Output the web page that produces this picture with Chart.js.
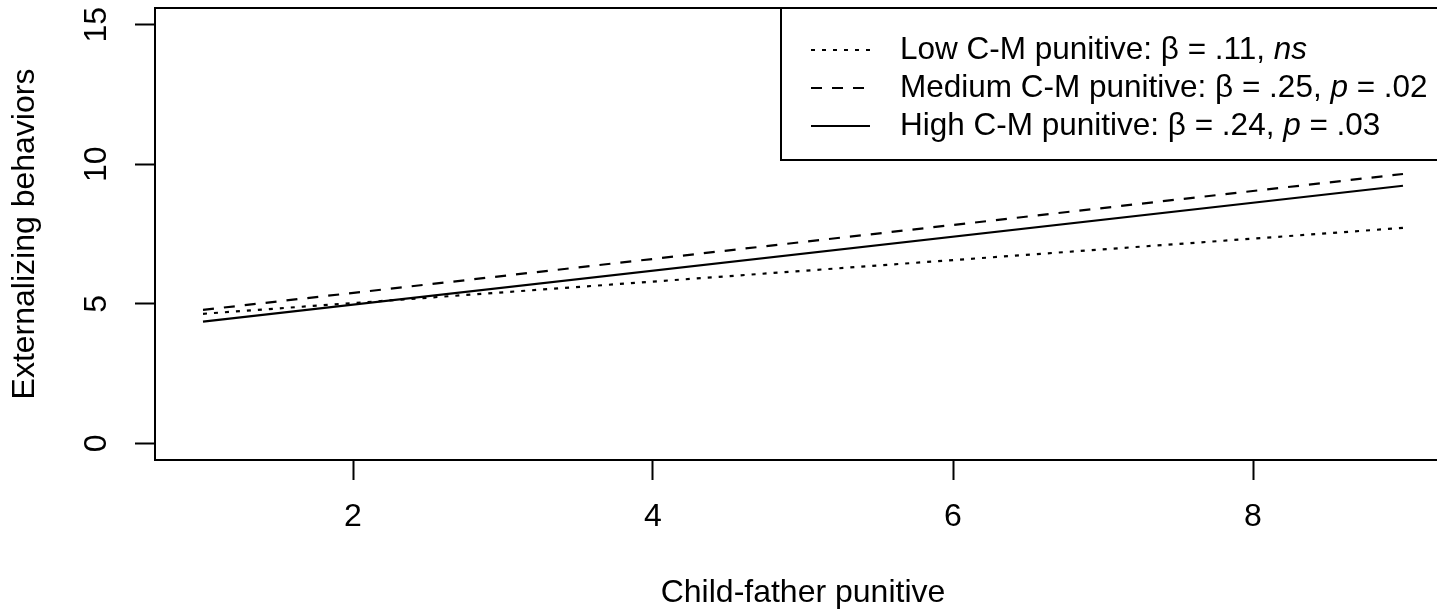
<!DOCTYPE html>
<html><head><meta charset="utf-8">
<script src="https://cdn.jsdelivr.net/npm/chart.js@4.4.1/dist/chart.umd.min.js"></script>
<style>
html,body{margin:0;padding:0;overflow:hidden;background:#fff;width:1437px;height:612px}
#wrap{width:1451px;height:612px;position:relative}
canvas{display:block}
</style></head>
<body><div id="wrap"><canvas id="c" width="1451" height="612"></canvas></div>
<script>
// ---- data ----
const xValues = [1, 9];
const lowValues = [4.64, 7.72];
const mediumValues = [4.78, 9.65];
const highValues = [4.36, 9.23];
const xTicks = [2, 4, 6, 8];
const yTicks = [0, 5, 10, 15];
const seriesNames = ["Low C-M punitive", "Medium C-M punitive", "High C-M punitive"];
const legendTexts = [
  [["Low C-M punitive: β = .11, ", false], ["ns", true]],
  [["Medium C-M punitive: β = .25, ", false], ["p", true], [" = .02", false]],
  [["High C-M punitive: β = .24, ", false], ["p", true], [" = .03", false]]
];
const xTitle = "Child-father punitive";
const yTitle = "Externalizing behaviors";

const FONT = "'Liberation Sans', Arial, Helvetica, sans-serif";
const FS = 32;
const LFS = 31.5;
const dashes = [[4, 7], [11, 10], []];

function pts(ys) { return xValues.map((x, i) => ({ x: x, y: ys[i] })); }

const framePlugin = {
  id: 'frame',
  afterDraw(chart) {
    const { ctx, chartArea: a } = chart;
    ctx.save();
    ctx.strokeStyle = '#000';
    ctx.lineWidth = 2;
    ctx.setLineDash([]);
    ctx.strokeRect(a.left, a.top, a.right - a.left, a.bottom - a.top);
    // legend
    const lx = 781, ly = a.top, lb = 160;
    ctx.fillStyle = '#fff';
    ctx.fillRect(lx, ly, a.right - lx, lb - ly);
    ctx.strokeRect(lx, ly, a.right - lx, lb - ly);
    const rowY = [a.top + 42, a.top + 80, a.top + 118];
    chart.data.datasets.forEach((ds, i) => {
      const y = rowY[i];
      ctx.beginPath();
      ctx.lineWidth = 1.8;
      ctx.setLineDash(ds.borderDash || []);
      ctx.moveTo(811, y);
      ctx.lineTo(870, y);
      ctx.stroke();
      ctx.setLineDash([]);
      let x = 900;
      ctx.fillStyle = '#000';
      ctx.textBaseline = 'alphabetic';
      ctx.textAlign = 'left';
      legendTexts[i].forEach(([t, it]) => {
        ctx.font = (it ? 'italic ' : '') + LFS + 'px ' + FONT;
        ctx.fillText(t, x, y + 9);
        x += ctx.measureText(t).width;
      });
    });
    ctx.restore();
  }
};

new Chart(document.getElementById('c'), {
  type: 'line',
  data: {
    datasets: [
      { label: seriesNames[0], data: pts(lowValues), borderDash: dashes[0] },
      { label: seriesNames[1], data: pts(mediumValues), borderDash: dashes[1] },
      { label: seriesNames[2], data: pts(highValues), borderDash: dashes[2] }
    ].map(d => Object.assign(d, { borderColor: '#000', borderWidth: 2.2, pointRadius: 0, fill: false, tension: 0 }))
  },
  options: {
    responsive: false,
    animation: false,
    devicePixelRatio: 1,
    layout: { padding: { top: 8, left: 0, right: 0, bottom: 0 } },
    plugins: { legend: { display: false }, tooltip: { enabled: false } },
    scales: {
      x: {
        type: 'linear', min: 0.68, max: 9.32,
        afterBuildTicks: s => { s.ticks = xTicks.map(v => ({ value: v })); },
        afterFit: s => { s.height = 152; s.paddingLeft = 0; s.paddingRight = 0; },
        grid: { drawOnChartArea: false, drawTicks: true, tickLength: 20, tickColor: '#000', tickWidth: 2 },
        border: { display: false },
        ticks: { color: '#000', font: { family: FONT, size: FS }, padding: 18, maxRotation: 0, minRotation: 0 },
        title: { display: true, text: xTitle, color: '#000', font: { family: FONT, size: FS, lineHeight: 1.2 }, padding: { top: 0, bottom: 0 } }
      },
      y: {
        type: 'linear', min: -0.6, max: 15.6,
        afterBuildTicks: s => { s.ticks = yTicks.map(v => ({ value: v })); },
        afterFit: s => { s.width = 155; s.paddingTop = 0; s.paddingBottom = 0; },
        grid: { drawOnChartArea: false, drawTicks: true, tickLength: 20, tickColor: '#000', tickWidth: 2 },
        border: { display: false },
        ticks: { color: '#000', font: { family: FONT, size: FS }, padding: 20, minRotation: 90, maxRotation: 90, crossAlign: 'center' },
        title: { display: true, text: yTitle, color: '#000', font: { family: FONT, size: FS, lineHeight: 1.2 }, padding: { top: 6, bottom: 0 } }
      }
    }
  },
  plugins: [framePlugin]
});
</script>
</body></html>
